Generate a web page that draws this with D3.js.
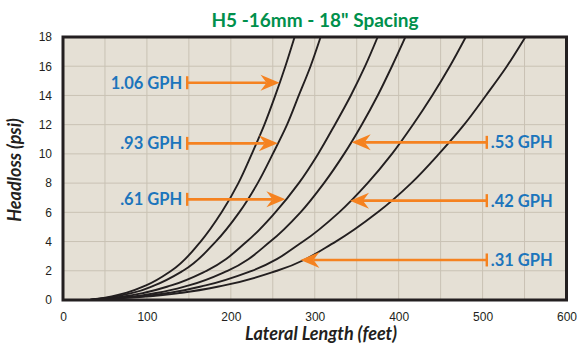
<!DOCTYPE html>
<html>
<head>
<meta charset="utf-8">
<script src="https://cdn.jsdelivr.net/npm/d3@7"></script>
<style>
  html, body { margin: 0; padding: 0; background: #ffffff; }
  svg { display: block; }
</style>
</head>
<body>
<svg id="chart" width="577" height="348"></svg>
<script>
// ---------------- data ----------------
const chartTitle = 'H5 -16mm - 18" Spacing';
const xTitle = "Lateral Length (feet)";
const yTitle = "Headloss (psi)";
const xTicks = [0, 100, 200, 300, 400, 500, 600];
const yTicks = [0, 2, 4, 6, 8, 10, 12, 14, 16, 18];

// headloss levels (psi) at which each curve's lateral length (feet) was read
const psiLevels = [0, 0.1, 0.25, 0.5, 1, 2, 4, 6, 8, 10, 12, 14, 16, 18];
const len106 = [32, 44, 58, 76, 99, 129, 164, 189, 209, 225, 240, 253, 265, 276];
const len093 = [32, 46, 63, 84, 109, 143, 182, 210, 232, 250, 267, 281, 295, 307];
const len061 = [32, 50, 72, 97, 129, 171, 219, 253, 281, 304, 324, 343, 360, 375];
const len053 = [32, 54, 84, 113, 150, 196, 247, 283, 311, 335, 356, 375, 392, 408];
const len042 = [32, 58, 95, 128, 170, 225, 286, 329, 363, 392, 417, 440, 461, 480];
const len031 = [32, 62, 104, 142, 192, 255, 325, 375, 415, 448, 478, 504, 529, 551];

const seriesNames = ["1.06 GPH", ".93 GPH", ".61 GPH", ".53 GPH", ".42 GPH", ".31 GPH"];
const labelPsi   = [14.87, 10.72, 6.89, 10.79, 6.80, 2.74];
const labelStart = [148, 148, 148, 505, 505, 505];
const labelTip   = [258, 256, 265, 344, 342, 283];

// ---------------- chart ----------------
const seriesLens = [len106, len093, len061, len053, len042, len031];
const svg = d3.select("#chart");
const plot = { left: 63, right: 566.5, top: 37, bottom: 300 };

const x = d3.scaleLinear().domain([0, 600]).range([plot.left, plot.right]);
const y = d3.scaleLinear().domain([0, 18]).range([plot.bottom, plot.top]);

const ink = "#231f20";
const orange = "#f58220";
const blue = "#1c75bc";

// background
svg.append("rect")
  .attr("x", plot.left).attr("y", plot.top)
  .attr("width", plot.right - plot.left).attr("height", plot.bottom - plot.top)
  .attr("fill", "#e5e0d5");

// grid
const grid = svg.append("g").attr("stroke", "#c9c2b4").attr("stroke-width", 1);
grid.selectAll("line.v").data(d3.range(50, 600, 50)).join("line")
  .attr("x1", d => x(d)).attr("x2", d => x(d))
  .attr("y1", plot.top).attr("y2", plot.bottom);
grid.selectAll("line.h").data(yTicks.slice(1, -1)).join("line")
  .attr("x1", plot.left).attr("x2", plot.right)
  .attr("y1", d => y(d)).attr("y2", d => y(d));

// clip
svg.append("clipPath").attr("id", "clip").append("rect")
  .attr("x", plot.left).attr("y", plot.top)
  .attr("width", plot.right - plot.left).attr("height", plot.bottom - plot.top);

// curves
const line = d3.line()
  .x(d => x(d[0])).y(d => y(d[1]))
  .curve(d3.curveMonotoneY);
svg.append("g").attr("clip-path", "url(#clip)")
  .selectAll("path").data(seriesLens).join("path")
  .attr("d", lens => line(lens.map((L, i) => [L, psiLevels[i]])))
  .attr("fill", "none").attr("stroke", ink).attr("stroke-width", 1.9);

// arrows + labels
const arrows = svg.append("g");
seriesNames.forEach((name, i) => {
  const yy = y(labelPsi[i]);
  const xs = x(labelStart[i]);
  const xt = x(labelTip[i]);
  const dir = xt > xs ? 1 : -1;
  const headLen = 19, notch = 13, half = 8;
  arrows.append("line")
    .attr("x1", xs).attr("x2", xt - dir * notch)
    .attr("y1", yy).attr("y2", yy)
    .attr("stroke", orange).attr("stroke-width", 2.6);
  arrows.append("line")
    .attr("x1", xs).attr("x2", xs)
    .attr("y1", yy - 6.5).attr("y2", yy + 6.5)
    .attr("stroke", orange).attr("stroke-width", 2.4);
  arrows.append("path")
    .attr("d", `M${xt},${yy} L${xt - dir * headLen},${yy - half} L${xt - dir * notch},${yy} L${xt - dir * headLen},${yy + half} Z`)
    .attr("fill", orange);
  arrows.append("text")
    .attr("x", dir > 0 ? xs - 5 : xs + 4)
    .attr("y", yy + 6)
    .attr("text-anchor", dir > 0 ? "end" : "start")
    .attr("font-family", "Lato, 'Open Sans', sans-serif")
    .attr("font-weight", "bold")
    .attr("font-size", 16.5)
    .attr("fill", blue)
    .text(name);
});

// border
svg.append("rect")
  .attr("x", plot.left).attr("y", plot.top)
  .attr("width", plot.right - plot.left).attr("height", plot.bottom - plot.top)
  .attr("fill", "none").attr("stroke", ink).attr("stroke-width", 3);

// axes
const xAxis = svg.append("g").attr("transform", `translate(0,${plot.bottom})`)
  .call(d3.axisBottom(x).tickValues(xTicks).tickSize(0).tickPadding(12));
const yAxis = svg.append("g").attr("transform", `translate(${plot.left},0)`)
  .call(d3.axisLeft(y).tickValues(yTicks).tickSize(0).tickPadding(11));
[xAxis, yAxis].forEach(a => {
  a.select(".domain").remove();
  a.selectAll("text")
    .attr("font-family", "'Liberation Sans', Arial, sans-serif")
    .attr("font-size", 12).attr("fill", ink);
});

// titles
svg.append("text")
  .attr("x", 315).attr("y", 27)
  .attr("text-anchor", "middle")
  .attr("font-family", "Lato, 'Open Sans', sans-serif")
  .attr("font-weight", "bold").attr("font-size", 19)
  .attr("fill", "#00904c")
  .text(chartTitle);

svg.append("text")
  .attr("x", 321).attr("y", 340)
  .attr("text-anchor", "middle")
  .attr("font-family", "Lato, 'Open Sans', sans-serif")
  .attr("font-weight", "bold").attr("font-style", "italic").attr("font-size", 18)
  .attr("fill", ink)
  .text(xTitle);

svg.append("text")
  .attr("transform", "translate(21,170) rotate(-90)")
  .attr("text-anchor", "middle")
  .attr("font-family", "Lato, 'Open Sans', sans-serif")
  .attr("font-weight", "bold").attr("font-style", "italic").attr("font-size", 18)
  .attr("fill", ink)
  .text(yTitle);
</script>
</body>
</html>
